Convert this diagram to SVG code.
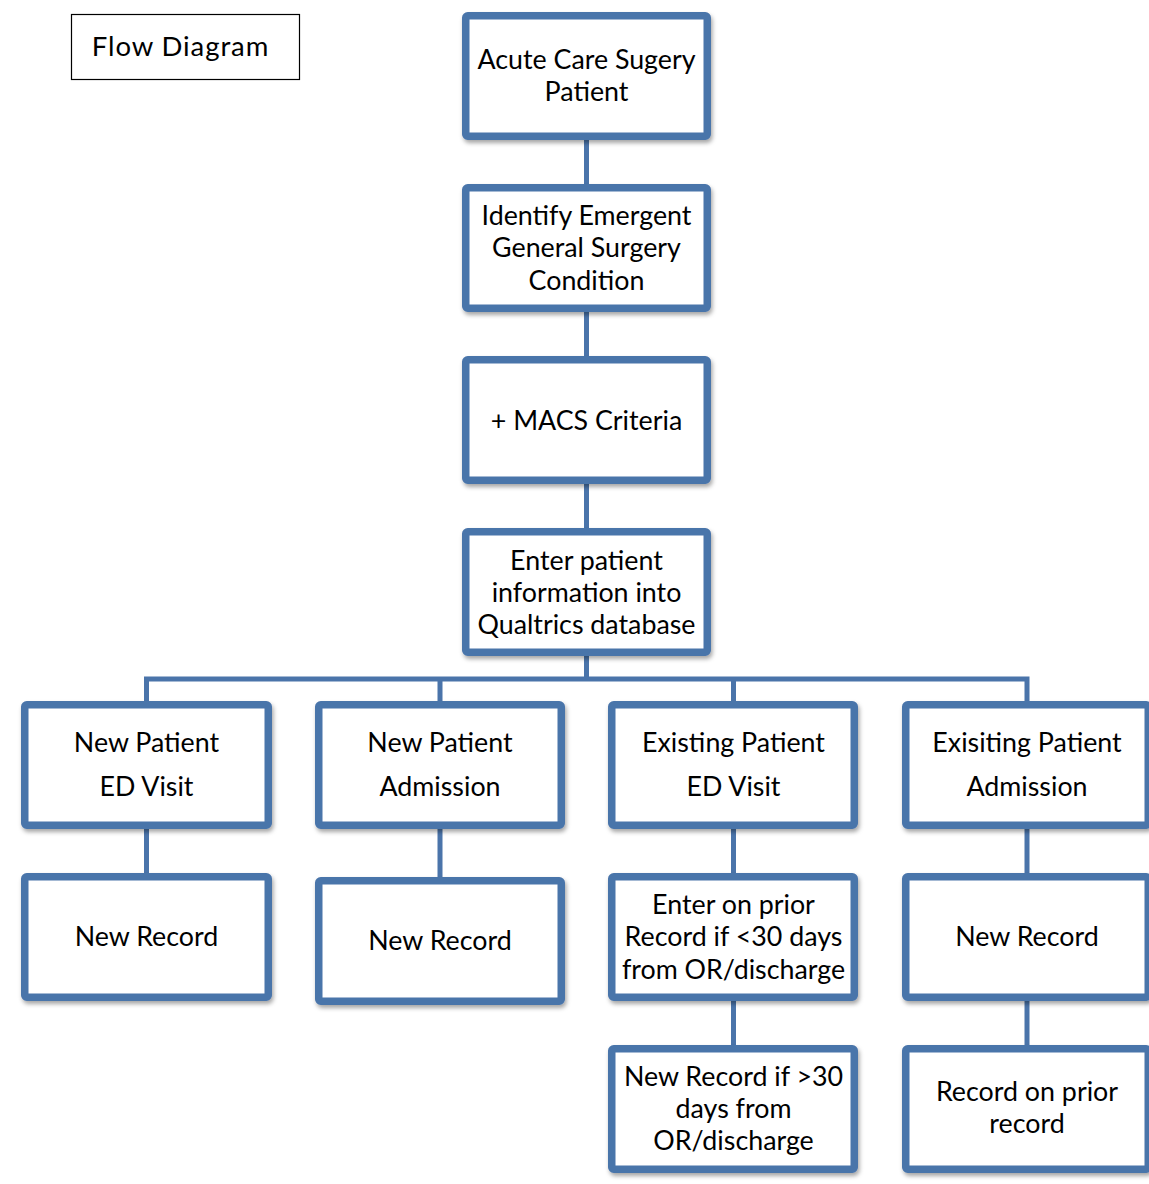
<svg xmlns="http://www.w3.org/2000/svg" width="1149" height="1184" viewBox="0 0 1149 1184">
<defs>
<filter id="sh" x="-10%" y="-10%" width="125%" height="130%">
<feDropShadow dx="1.5" dy="3" stdDeviation="2" flood-color="#000" flood-opacity="0.35"/>
</filter>
<style>
.box{fill:#fff;stroke:#4a74aa;stroke-width:7.5;filter:url(#sh)}
.conn{fill:none;stroke:#4a74aa;stroke-width:5;stroke-linejoin:miter}
text{font-family:Lato,"Open Sans","Liberation Sans",sans-serif;font-size:26.8px;fill:#000;text-anchor:middle}
.ttl{font-size:27.5px;letter-spacing:0.9px}
</style>
</defs>
<rect width="1149" height="1184" fill="#fff"/>
<g id="connectors">
<path class="conn" d="M586.5 140V184M586.5 312V356M586.5 484V528M586.5 656V679"/>
<path class="conn" d="M146.5 701V679H1027V701M440 679V701M733.5 679V701"/>
<path class="conn" d="M146.5 829V873M440 829V877M733.5 829V873M1027 829V873M733.5 1001V1045M1027 1001V1045"/>
</g>
<g id="title">
<rect x="71.5" y="14.5" width="228" height="65" fill="#fff" stroke="#000" stroke-width="1.2"/>
<text class="ttl" x="180.5" y="55.5">Flow Diagram</text>
</g>
<g id="n1"><rect class="box" x="465.75" y="15.75" width="241.5" height="120.5" rx="2"/>
<text x="586.5" y="69">Acute Care Sugery</text><text x="586.5" y="101">Patient</text></g>
<g id="n2"><rect class="box" x="465.75" y="187.75" width="241.5" height="120.5" rx="2"/>
<text x="586.5" y="225">Identify Emergent</text><text x="586.5" y="257">General Surgery</text><text x="586.5" y="290">Condition</text></g>
<g id="n3"><rect class="box" x="465.75" y="359.75" width="241.5" height="120.5" rx="2"/>
<text x="586.5" y="430">+ MACS Criteria</text></g>
<g id="n4"><rect class="box" x="465.75" y="531.75" width="241.5" height="120.5" rx="2"/>
<text x="586.5" y="570">Enter patient</text><text x="586.5" y="602">information into</text><text x="586.5" y="634">Qualtrics database</text></g>
<g id="n5"><rect class="box" x="24.75" y="704.75" width="243.5" height="120.5" rx="2"/>
<text x="146.5" y="752">New Patient</text><text x="146.5" y="796">ED Visit</text></g>
<g id="n6"><rect class="box" x="318.75" y="704.75" width="242.5" height="120.5" rx="2"/>
<text x="440" y="752">New Patient</text><text x="440" y="796">Admission</text></g>
<g id="n7"><rect class="box" x="611.75" y="704.75" width="242.5" height="120.5" rx="2"/>
<text x="733.5" y="752">Existing Patient</text><text x="733.5" y="796">ED Visit</text></g>
<g id="n8"><rect class="box" x="905.75" y="704.75" width="242.5" height="120.5" rx="2"/>
<text x="1027" y="752">Exisiting Patient</text><text x="1027" y="796">Admission</text></g>
<g id="n9"><rect class="box" x="24.75" y="876.75" width="243.5" height="120.5" rx="2"/>
<text x="146.5" y="946">New Record</text></g>
<g id="n10"><rect class="box" x="318.75" y="880.75" width="242.5" height="120.5" rx="2"/>
<text x="440" y="950">New Record</text></g>
<g id="n11"><rect class="box" x="611.75" y="876.75" width="242.5" height="120.5" rx="2"/>
<text x="733.5" y="914">Enter on prior</text><text x="733.5" y="946">Record if &lt;30 days</text><text x="733.5" y="979">from OR/discharge</text></g>
<g id="n12"><rect class="box" x="905.75" y="876.75" width="242.5" height="120.5" rx="2"/>
<text x="1027" y="946">New Record</text></g>
<g id="n13"><rect class="box" x="611.75" y="1048.75" width="242.5" height="120.5" rx="2"/>
<text x="733.5" y="1086">New Record if &gt;30</text><text x="733.5" y="1118">days from</text><text x="733.5" y="1150">OR/discharge</text></g>
<g id="n14"><rect class="box" x="905.75" y="1048.75" width="242.5" height="120.5" rx="2"/>
<text x="1027" y="1101">Record on prior</text><text x="1027" y="1133">record</text></g>
</svg>
